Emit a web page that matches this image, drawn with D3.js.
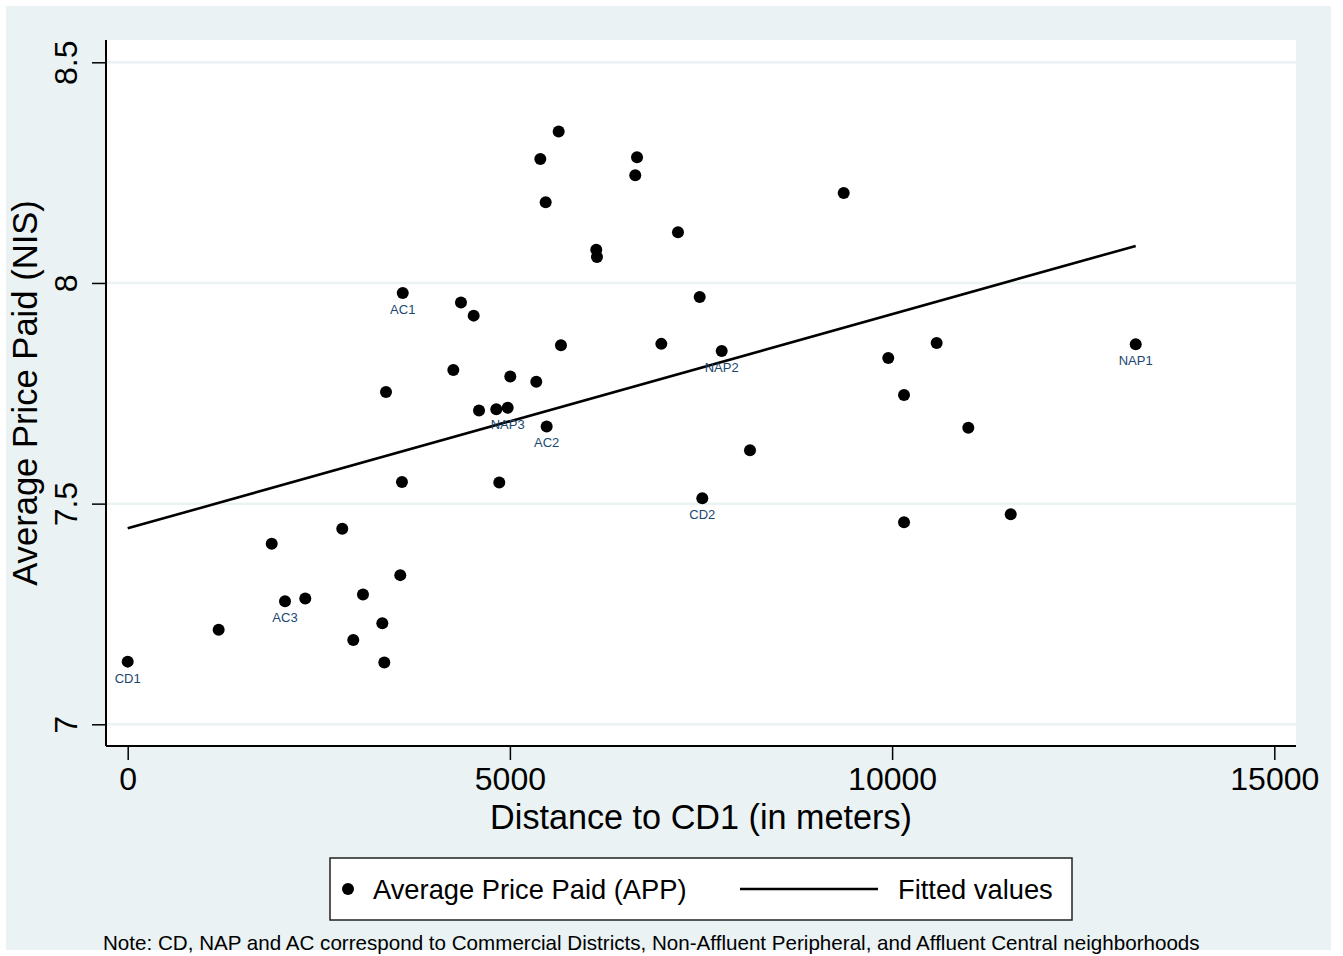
<!DOCTYPE html>
<html>
<head>
<meta charset="utf-8">
<script src="https://cdn.jsdelivr.net/npm/d3@7"></script>
<style>
  body { margin: 0; background: #ffffff; }
  text { font-family: "Liberation Sans", Arial, sans-serif; }
</style>
</head>
<body>
<svg id="chart" width="1343" height="956"></svg>
<script>
// Distance to CD1 (meters) and average price paid (NIS), one entry per store
const distance = [0, 1190, 1884, 2058, 2323, 2807, 2951, 3078, 3331, 3357,
                  3379, 3566, 3588, 3598, 4260, 4360, 4526, 4596, 4822, 4971,
                  4861, 5005, 5345, 5481, 5398, 5468, 5638, 5668, 6130, 6139,
                  6640, 6663, 6981, 7199, 7483, 7517, 7771, 8141, 9367, 9950,
                  10156, 10156, 10583, 10997, 11552, 13187];
const price = [7.142, 7.214, 7.409, 7.279, 7.285, 7.443, 7.191, 7.294, 7.229, 7.140,
               7.753, 7.338, 7.549, 7.977, 7.803, 7.956, 7.926, 7.711, 7.714, 7.717,
               7.548, 7.788, 7.776, 7.675, 8.281, 8.183, 8.343, 7.859, 8.075, 8.059,
               8.244, 8.285, 7.862, 8.115, 7.968, 7.512, 7.846, 7.621, 8.204, 7.830,
               7.746, 7.458, 7.864, 7.672, 7.476, 7.861];
const pointLabel = ["CD1", "", "", "AC3", "", "", "", "", "", "",
                    "", "", "", "AC1", "", "", "", "", "", "NAP3",
                    "", "", "", "AC2", "", "", "", "", "", "",
                    "", "", "", "", "", "CD2", "NAP2", "", "", "",
                    "", "", "", "", "", "NAP1"];

// Fitted values (linear fit), read at both ends of the data range
const fitX = [0, 13187];
const fitY = [7.444, 8.084];

const xTicks = [0, 5000, 10000, 15000];
const yTicks = [7, 7.5, 8, 8.5];

const legendItems = ["Average Price Paid (APP)", "Fitted values"];
const note = "Note: CD, NAP and AC correspond to Commercial Districts, Non-Affluent Peripheral, and Affluent Central neighborhoods";

const bg = "#eaf2f3";
const labelColor = "#1a476f";

let svg = d3.select("#chart");

// outer graph region
svg.append("rect").attr("x", 6).attr("y", 6).attr("width", 1325).attr("height", 944).attr("fill", bg);

// plot region
let plot = {left: 106, right: 1296, top: 40, bottom: 746};
svg.append("rect")
    .attr("x", plot.left).attr("y", plot.top)
    .attr("width", plot.right - plot.left).attr("height", plot.bottom - plot.top)
    .attr("fill", "#ffffff");

let x = d3.scaleLinear().domain([0, 15000]).range([127.7, 1274.3]);
let y = d3.scaleLinear().domain([7, 8.5]).range([724.3, 62.3]);

// gridlines
svg.append("g").selectAll("line").data(yTicks).enter().append("line")
    .attr("x1", plot.left).attr("x2", plot.right)
    .attr("y1", d => y(d)).attr("y2", d => y(d))
    .attr("stroke", bg).attr("stroke-width", 2.5);

// y axis
let yAxis = svg.append("g")
    .attr("transform", "translate(" + plot.left + ",0)")
    .call(d3.axisLeft(y).tickValues(yTicks).tickSize(14).tickFormat(d3.format("")));
yAxis.select(".domain").remove();
yAxis.selectAll(".tick line").attr("stroke", "#000").attr("stroke-width", 1.5);
yAxis.selectAll(".tick text")
    .attr("font-size", 32).attr("fill", "#000")
    .attr("text-anchor", "middle")
    .attr("x", 0).attr("dy", 0).attr("y", 0)
    .attr("transform", "translate(-29,0) rotate(-90)");

svg.append("line")
    .attr("x1", plot.left).attr("x2", plot.left)
    .attr("y1", plot.top).attr("y2", plot.bottom)
    .attr("stroke", "#000").attr("stroke-width", 2);

// x axis
let xAxis = svg.append("g")
    .attr("transform", "translate(0," + plot.bottom + ")")
    .call(d3.axisBottom(x).tickValues(xTicks).tickSize(14).tickFormat(d3.format("")));
xAxis.select(".domain").remove();
xAxis.selectAll(".tick line").attr("stroke", "#000").attr("stroke-width", 1.5);
xAxis.selectAll(".tick text")
    .attr("font-size", 32).attr("fill", "#000")
    .attr("dy", 0).attr("y", 44);

svg.append("line")
    .attr("x1", plot.left).attr("x2", plot.right)
    .attr("y1", plot.bottom).attr("y2", plot.bottom)
    .attr("stroke", "#000").attr("stroke-width", 2);

// axis titles
svg.append("text")
    .attr("x", (plot.left + plot.right) / 2).attr("y", 829)
    .attr("text-anchor", "middle").attr("font-size", 34.2)
    .text("Distance to CD1 (in meters)");

svg.append("text")
    .attr("transform", "translate(37," + (plot.top + plot.bottom) / 2 + ") rotate(-90)")
    .attr("text-anchor", "middle").attr("font-size", 34.6)
    .text("Average Price Paid (NIS)");

// fitted line
let line = d3.line().x(d => x(d[0])).y(d => y(d[1]));
svg.append("path")
    .datum(d3.zip(fitX, fitY))
    .attr("d", line)
    .attr("fill", "none").attr("stroke", "#000").attr("stroke-width", 2.6);

// scatter points
let pts = d3.range(distance.length);
svg.append("g").selectAll("circle").data(pts).enter().append("circle")
    .attr("cx", i => x(distance[i]))
    .attr("cy", i => y(price[i]))
    .attr("r", 6)
    .attr("fill", "#000");

svg.append("g").selectAll("text").data(pts.filter(i => pointLabel[i] !== "")).enter().append("text")
    .attr("x", i => x(distance[i]))
    .attr("y", i => y(price[i]) + 21)
    .attr("text-anchor", "middle")
    .attr("font-size", 13)
    .attr("fill", labelColor)
    .text(i => pointLabel[i]);

// legend
let legend = svg.append("g");
legend.append("rect")
    .attr("x", 330).attr("y", 858).attr("width", 742).attr("height", 62)
    .attr("fill", "#fff").attr("stroke", "#222").attr("stroke-width", 1.5);
legend.append("circle").attr("cx", 348).attr("cy", 889).attr("r", 6).attr("fill", "#000");
legend.append("text").attr("x", 373).attr("y", 899).attr("font-size", 27.3).text(legendItems[0]);
legend.append("line")
    .attr("x1", 740).attr("x2", 878).attr("y1", 889).attr("y2", 889)
    .attr("stroke", "#000").attr("stroke-width", 2.6);
legend.append("text").attr("x", 898).attr("y", 899).attr("font-size", 27.3).text(legendItems[1]);

// note
svg.append("text")
    .attr("x", 103).attr("y", 950)
    .attr("font-size", 20.6)
    .text(note);
</script>
</body>
</html>
